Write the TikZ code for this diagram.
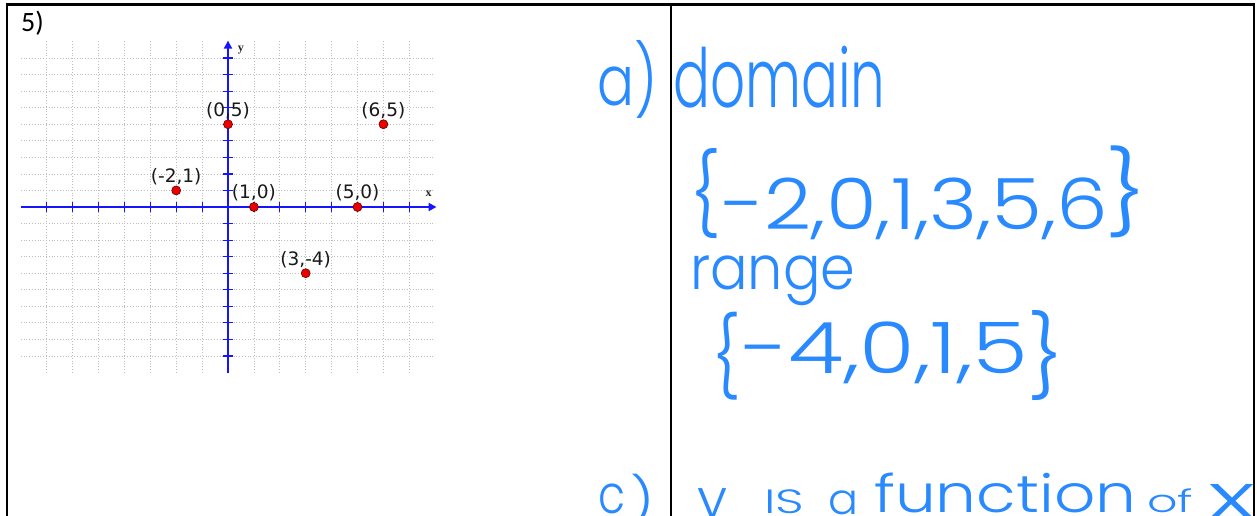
\documentclass[tikz,border=0pt]{standalone}
\usepackage{fontspec}
\usepackage{graphicx}
\setmainfont{DejaVu Sans}
\IfFontExistsTF{Poppins Light}{\newfontfamily\hand{Poppins Light}}{\newfontfamily\hand{Poppins}}
\newfontfamily\calib{Carlito}
\newfontfamily\tms{Liberation Serif}
\usetikzlibrary{arrows.meta}
\definecolor{hw}{RGB}{41,137,255}
\definecolor{axisblue}{RGB}{20,20,255}
\definecolor{ptred}{RGB}{235,0,0}
\definecolor{gridgray}{RGB}{190,190,190}
\newcommand{\hwtext}[3]{\resizebox*{#1pt}{#2pt}{\hand #3}}
\begin{document}
\begin{tikzpicture}[x=1pt,y=-1pt,
  hwnode/.style={anchor=north west,inner sep=0pt,text=hw},
  gridline/.style={gridgray,dotted,line width=0.8pt},
  axis/.style={axisblue,line width=2pt},
  tickmark/.style={axisblue,line width=1.2pt},
  dot/.style={circle,fill=ptred,draw=black!60!red,line width=0.6pt,minimum size=9pt,inner sep=0pt},
  ptlabel/.style={font=\fontsize{18.5}{18.5}\selectfont,inner sep=0pt,text=black!90},
  axlabel/.style={font=\tms\bfseries\fontsize{12}{12}\selectfont,inner sep=0pt,text=black!85},
  border/.style={line width=2.2pt,black}
]
\useasboundingbox (0,0) rectangle (1257,516);
\fill[white] (0,0) rectangle (1257,516);

% table borders
\coordinate (tl) at (7,4.5);
\coordinate (tr) at (1254,4.5);
\coordinate (bl) at (7,530);
\coordinate (br) at (1254,530);
\coordinate (mt) at (671,4.5);
\coordinate (mb) at (671,530);
\draw[border] (bl) -- (tl) -- (tr) -- (br);
\draw[border] (mt) -- (mb);

% problem number
\node[anchor=north west,inner sep=0pt,font=\calib\fontsize{28}{28}\selectfont] (num) at (21,11) {5)};

% graph
\begin{scope}[shift={(228,207)},x=25.9pt,y=16.55pt]
  \foreach \i in {-7,...,7} \draw[gridline] (\i,-10) -- (\i,10);
  \foreach \j in {-9,...,9} \draw[gridline] (-8,\j) -- (8,\j);
  \coordinate (xa) at (-8,0);
  \coordinate (xb) at (8.05,0);
  \coordinate (ya) at (0,-10.05);
  \coordinate (yb) at (0,10.05);
  \draw[axis,-{Triangle[length=8pt,width=8pt]}] (xa) -- (xb);
  \draw[axis,-{Triangle[length=8pt,width=8pt]}] (ya) -- (yb);
  \foreach \i in {-7,...,-1,1,2,...,7} \draw[tickmark] (\i,0) ++(0,-5pt) -- ++(0,10pt);
  \foreach \j in {-9,...,-1,1,2,...,9} \draw[tickmark] (0,\j) ++(-5pt,0) -- ++(10pt,0);
  \node[axlabel] (ylab) at (0.5,9.5) {y};
  \node[axlabel] (xlab) at (7.75,0.8) {x};
  \foreach \p/\q/\n in {0/5/a,6/5/b,-2/1/c,1/0/d,5/0/e,3/-4/f}{
    \node[dot] (p\n) at (\p,\q) {};
    \node[ptlabel,yshift=14pt] (l\n) at (p\n) {(\p,\q)};
  }
\end{scope}

% handwritten answers
\node[hwnode] (ha) at (597,40) {\hwtext{60}{78}{a)}};
\node[hwnode] (hdomain) at (673,46) {\hwtext{212}{62}{domain}};
\node[hwnode] (dl) at (690,148) {\hwtext{30}{90}{\{}};
\node[hwnode] (dset) at (722,178) {\hwtext{386}{62}{-2,0,1,3,5,6}};
\node[hwnode] (dr) at (1106,146) {\hwtext{40}{92}{\}}};
\node[hwnode] (hrange) at (690,256) {\hwtext{165}{50}{range}};
\node[hwnode] (rl) at (712,312) {\hwtext{28}{88}{\{}};
\node[hwnode] (rset) at (742,322) {\hwtext{286}{62}{-4,0,1,5}};
\node[hwnode] (rr) at (1028,310) {\hwtext{35}{90}{\}}};
\node[hwnode] (hc) at (598,484) {\hwtext{27}{30}{c}};
\node[hwnode] (hcp) at (630,474) {\hwtext{24}{52}{)}};
\node[hwnode] (w1) at (697,488) {\hwtext{30}{44}{y}};
\node[hwnode] (w2) at (764,490) {\hwtext{40}{24}{IS}};
\node[hwnode] (w3) at (828,491) {\hwtext{30}{24}{a}};
\node[hwnode] (w4) at (874,473) {\hwtext{262}{40}{function}};
\node[hwnode] (w5) at (1147,489) {\hwtext{46}{24}{of}};
\node[hwnode] (w6) at (1208,484) {\hwtext{47}{34}{x}};
\end{tikzpicture}
\end{document}
